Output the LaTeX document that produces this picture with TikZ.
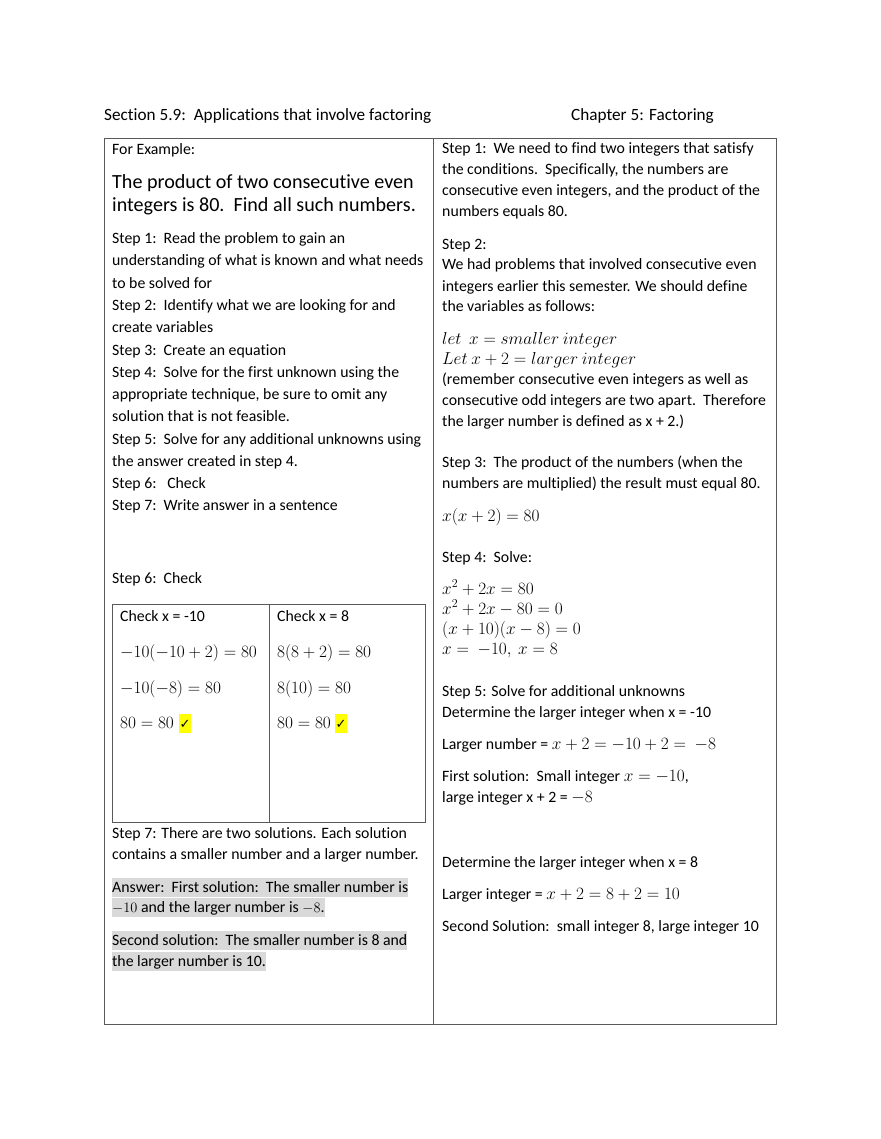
\documentclass[tikz,border=0pt]{standalone}
\usepackage{fontspec}
\setmainfont[Ligatures=NoCommon]{Carlito}
\newfontfamily\symfont{DejaVu Sans}
\newcommand\bodysz{\fontsize{15.8}{19}\selectfont}
\newcommand\headsz{\fontsize{17.2}{21}\selectfont}
\newcommand\bigsz{\fontsize{20.1}{24}\selectfont}
\newcommand\mathsz{\fontsize{16.6}{20}\selectfont}
\definecolor{rule}{gray}{0.35}
\definecolor{hlgray}{gray}{0.85}
\definecolor{hlyellow}{RGB}{255,255,0}
\tikzset{
  txt/.style={anchor=base west, inner sep=0pt, font=\bodysz},
  hdr/.style={anchor=base west, inner sep=0pt, font=\headsz},
  bigtxt/.style={anchor=base west, inner sep=0pt, font=\bigsz},
  mth/.style={anchor=base west, inner sep=0pt, font=\mathsz},
  hl/.style={anchor=base west, inner xsep=0pt, inner ysep=0pt, fill=hlgray, font=\bodysz, text height=14.5pt, text depth=5pt},
  frame/.style={draw=rule, line width=0.9pt},
  tick/.style={anchor=base west, inner xsep=0.5pt, inner ysep=0pt, fill=hlyellow, font=\symfont\fontsize{13}{15}\selectfont, text height=14pt, text depth=5pt}
}
\begin{document}
\begin{tikzpicture}[x=1pt,y=-1pt]
\useasboundingbox (0,0) rectangle (880,1139);
% outer table
\draw[frame] (104,138) rectangle (776,1024);
\draw[frame] (433,138) -- (433,1024);
% inner table
\draw[frame] (112,604) rectangle (425,822);
\draw[frame] (269,604) -- (269,822);
\begin{scope}[yshift=-1pt]
% header
\node[hdr] (h1) at (104,120) {Section 5.9:\ \ Applications that involve factoring};
\node[hdr] (h2) at (571,120) {Chapter 5: Factoring};

% left column
\node[txt] (l1) at (112,154) {For Example:};
\node[bigtxt] (l2) at (112,188) {The product of two consecutive even};
\node[bigtxt] (l3) at (112,211) {integers is 80.\ \ Find all such numbers.};
\node[txt] (l4) at (112,243) {Step 1:\ \ Read the problem to gain an};
\node[txt] (l5) at (112,265) {understanding of what is known and what needs};
\node[txt] (l6) at (112,287) {to be solved for};
\node[txt] (l7) at (112,309) {Step 2:\ \ Identify what we are looking for and};
\node[txt] (l8) at (112,331) {create variables};
\node[txt] (l9) at (112,354) {Step 3:\ \ Create an equation};
\node[txt] (l10) at (112,376) {Step 4:\ \ Solve for the first unknown using the};
\node[txt] (l11) at (112,398) {appropriate technique, be sure to omit any};
\node[txt] (l12) at (112,420) {solution that is not feasible.};
\node[txt] (l13) at (112,443) {Step 5:\ \ Solve for any additional unknowns using};
\node[txt] (l14) at (112,465) {the answer created in step 4.};
\node[txt] (l15) at (112,487) {Step 6:\ \ \ Check};
\node[txt] (l16) at (112,509) {Step 7:\ \ Write answer in a sentence};
\node[txt] (l17) at (112,582) {Step 6:\ \ Check};
% inner table contents
\node[txt] (c1) at (120,620) {Check x = -10};
\node[mth] (c2) at (120,656) {$-10(-10+2)=80$};
\node[mth] (c3) at (120,692) {$-10(-8)=80$};
\node[mth] (c4) at (120,727) {$80=80$};
\node[tick] (c5) at (179,727) {✓};
\node[txt] (d1) at (277,620) {Check x = 8};
\node[mth] (d2) at (277,656) {$8(8+2)=80$};
\node[mth] (d3) at (277,692) {$8(10)=80$};
\node[mth] (d4) at (277,727) {$80=80$};
\node[tick] (d5) at (335,727) {✓};
% step 7 and answers
\node[txt] (l18) at (112,837) {Step 7: There are two solutions. Each solution};
\node[txt] (l19) at (112,858) {contains a smaller number and a larger number.};
\node[hl] (a1) at (112,891) {Answer:\ \ First solution:\ \ The smaller number is};
\node[hl] (a2) at (112,911) {$-10$ and the larger number is $-8$.};
\node[hl] (a3) at (112,944) {Second solution:\ \ The smaller number is 8 and};
\node[hl] (a4) at (112,965) {the larger number is 10.};

% right column
\node[txt] (r1) at (442,153) {Step 1:\ \ We need to find two integers that satisfy};
\node[txt] (r2) at (442,174) {the conditions.\ \ Specifically, the numbers are};
\node[txt] (r3) at (442,195) {consecutive even integers, and the product of the};
\node[txt] (r4) at (442,216) {numbers equals 80.};
\node[txt] (r5) at (442,249) {Step 2:};
\node[txt] (r6) at (442,269) {We had problems that involved consecutive even};
\node[txt] (r7) at (442,290) {integers earlier this semester. We should define};
\node[txt] (r8) at (442,311) {the variables as follows:};
\node[mth] (r9) at (442,343) {$let\ \ x=smaller\ integer$};
\node[mth] (r10) at (442,363) {$Let\ x+2=larger\ integer$};
\node[txt] (r11) at (442,383) {(remember consecutive even integers as well as};
\node[txt] (r12) at (442,404) {consecutive odd integers are two apart.\ \ Therefore};
\node[txt] (r13) at (442,425) {the larger number is defined as x + 2.)};
\node[txt] (r14) at (442,466) {Step 3:\ \ The product of the numbers (when the};
\node[txt] (r15) at (442,487) {numbers are multiplied) the result must equal 80.};
\node[mth] (r16) at (442,520) {$x(x+2)=80$};
\node[txt] (r17) at (442,561) {Step 4:\ \ Solve:};
\node[mth] (r18) at (442,593) {$x^2+2x=80$};
\node[mth] (r19) at (442,613) {$x^2+2x-80=0$};
\node[mth] (r20) at (442,633) {$(x+10)(x-8)=0$};
\node[mth] (r21) at (442,653) {$x=\ -10,\ x=8$};
\node[txt] (r22) at (442,695) {Step 5: Solve for additional unknowns};
\node[txt] (r23) at (442,716) {Determine the larger integer when x = -10};
\node[txt] (r24) at (442,748) {Larger number = {\mathsz$x+2=-10+2=\ -8$}};
\node[txt] (r25) at (442,780) {First solution:\ \ Small integer {\mathsz$x=-10$},};
\node[txt] (r26) at (442,801) {large integer x + 2 = {\mathsz$-8$}};
\node[txt] (r27) at (442,866) {Determine the larger integer when x = 8};
\node[txt] (r28) at (442,898) {Larger integer = {\mathsz$x+2=8+2=10$}};
\node[txt] (r29) at (442,930) {Second Solution:\ \ small integer 8, large integer 10};
\end{scope}
\end{tikzpicture}
\end{document}
